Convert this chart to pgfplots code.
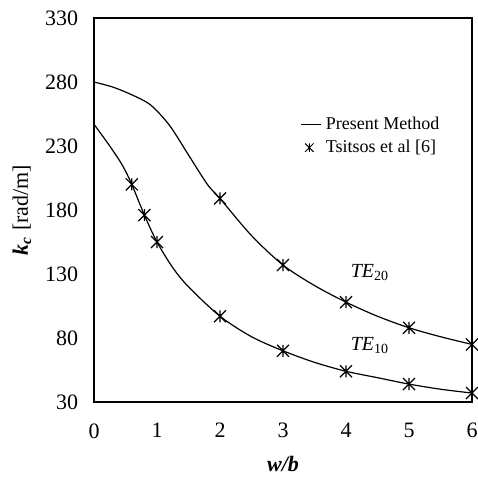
\documentclass[border=0pt]{standalone}
\usepackage{fontspec}
\setmainfont{Liberation Serif}
\usepackage{pgfplots}
\pgfplotsset{compat=1.18}
% X with a vertical stroke, as in the reference
\pgfdeclareplotmark{xast}{%
  \pgfpathmoveto{\pgfqpoint{-\pgfplotmarksize}{-\pgfplotmarksize}}%
  \pgfpathlineto{\pgfqpoint{\pgfplotmarksize}{\pgfplotmarksize}}%
  \pgfpathmoveto{\pgfqpoint{-\pgfplotmarksize}{\pgfplotmarksize}}%
  \pgfpathlineto{\pgfqpoint{\pgfplotmarksize}{-\pgfplotmarksize}}%
  \pgfpathmoveto{\pgfqpoint{0pt}{-\pgfplotmarksize}}%
  \pgfpathlineto{\pgfqpoint{0pt}{\pgfplotmarksize}}%
  \pgfusepathqstroke}

\begin{document}
\fontsize{11}{13}\selectfont
\begin{tikzpicture}
\begin{axis}[
    name=ax,
    width=189pt, height=192pt,
    scale only axis,
    xmin=0, xmax=6, ymin=30, ymax=330,
    xtick={0,...,6},
    ytick={30,80,...,330},
    major tick length=0pt,
    axis line style={line width=0.6pt},
    /pgf/number format/assume math mode=true,
    xticklabel style={inner sep=0pt, yshift=-10.5pt},
    yticklabel style={inner sep=0pt, xshift=-7.7pt},
    xlabel={\textbf{\textit{w/b}}},
    ylabel={\textbf{\textit{k}}\textsubscript{\textbf{\textit{c}}} [rad/m]},
    xlabel style={inner sep=0pt, yshift=-8.8pt},
    ylabel style={inner sep=0pt, yshift=6.8pt},
    legend style={at={(0.53,0.692)}, anchor=west, draw=none, fill=none,
                  row sep=-0.5pt, font=\fontsize{9}{11}\selectfont},
    legend cell align=left,
]
% TE10
\addplot[black, line width=0.6pt, smooth, tension=0.5,
    legend image code/.code={\draw[black, line width=0.6pt] (0pt,0pt) -- (10pt,0pt);}]
  coordinates {
  (0,247) (0.25,230) (0.45,215) (0.6,200) (0.8,176) (1,155) (1.25,135)
  (1.5,120) (2,97) (2.5,81) (3,70) (3.5,61) (4,54) (4.5,49) (5,44)
  (5.5,40) (6,37)
};
\addlegendentry{Present Method}
\addplot[black, only marks, mark=xast, mark size=3pt, line width=0.6pt,
    legend image code/.code={\pgfplotsset{mark size=2.1pt}\draw[black, line width=0.5pt] plot[mark=xast] coordinates {(4pt,0pt)};}]
  coordinates {
  (0.6,200) (0.8,176) (1,155) (2,97) (3,70) (4,54) (5,44) (6,37)
};
\addlegendentry{Tsitsos et al [6]}
% TE20
\addplot[black, line width=0.6pt, smooth, tension=0.5, forget plot] coordinates {
  (0,280) (0.3,276) (0.6,270) (0.9,262) (1.2,246) (1.5,223) (1.8,200)
  (2,189) (2.5,160) (3,137) (3.5,121) (4,108) (4.5,97) (5,88)
  (5.5,81) (6,75)
};
\addplot[black, only marks, mark=xast, mark size=3pt, line width=0.6pt, forget plot] coordinates {
  (2,189) (3,137) (4,108) (5,88) (6,75)
};
\node[font=\fontsize{10}{12}\selectfont] at (axis cs:4.38,131) {\textit{TE}\textsubscript{20}};
\node[font=\fontsize{10}{12}\selectfont] at (axis cs:4.38,74) {\textit{TE}\textsubscript{10}};
\end{axis}
\path (ax.south west) ++(-47pt,-37.5pt);
\path (ax.north east) ++(3pt,9pt);
\end{tikzpicture}
\end{document}
